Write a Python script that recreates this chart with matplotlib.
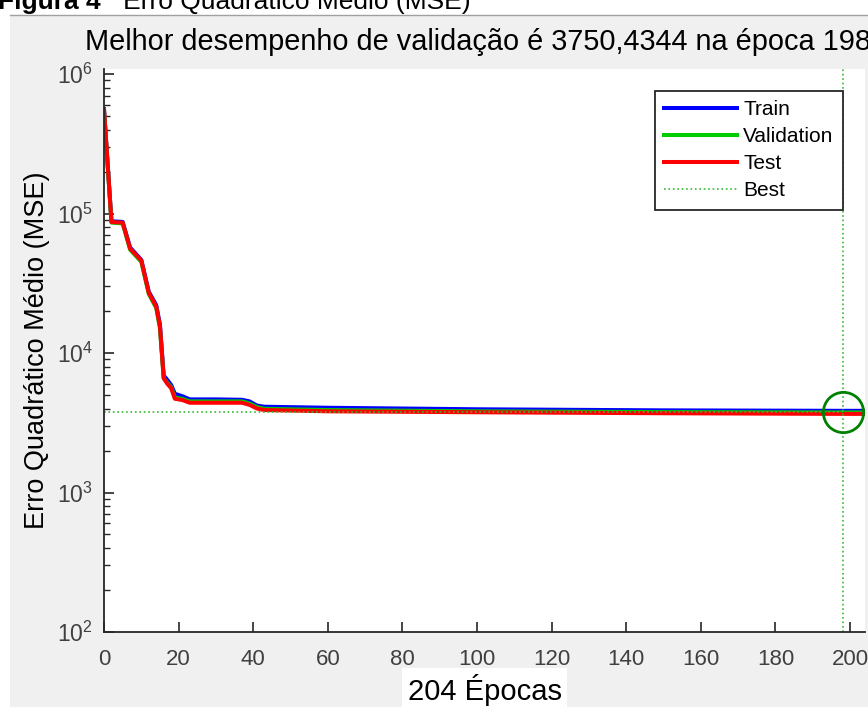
import matplotlib
matplotlib.use("Agg")
import matplotlib.pyplot as plt
from matplotlib.lines import Line2D
from matplotlib.patches import Rectangle

# ---- data ----
epochs = [0, 2, 5, 7, 10, 12, 14, 15, 16, 17, 18, 19, 21, 23, 30, 37, 39, 41, 43, 60, 100, 150, 198, 204]
train = [5.6e5, 8.8e4, 8.7e4, 5.7e4, 4.65e4, 2.75e4, 2.2e4, 1.6e4, 6.9e3, 6.4e3, 5.9e3, 5.1e3,
         4.9e3, 4.65e3, 4.65e3, 4.62e3, 4.5e3, 4.2e3, 4.12e3, 4.05e3, 3.95e3, 3.88e3, 3.85e3, 3.85e3]
validation = [5.5e5, 8.6e4, 8.5e4, 5.5e4, 4.5e4, 2.65e4, 2.1e4, 1.5e4, 6.6e3, 6.1e3, 5.7e3, 4.8e3,
              4.7e3, 4.5e3, 4.5e3, 4.5e3, 4.35e3, 4.1e3, 3.98e3, 3.9e3, 3.82e3, 3.77e3, 3750.4344, 3752]
test = [5.6e5, 8.7e4, 8.6e4, 5.6e4, 4.6e4, 2.7e4, 2.15e4, 1.55e4, 6.6e3, 6.0e3, 5.6e3, 4.7e3,
        4.6e3, 4.4e3, 4.4e3, 4.4e3, 4.25e3, 4.0e3, 3.9e3, 3.82e3, 3.76e3, 3.7e3, 3.66e3, 3.66e3]
best_epoch = 198
best_perf = 3750.4344
n_epochs = 204

xticks = [0, 20, 40, 60, 80, 100, 120, 140, 160, 180, 200]
yticks = [1e2, 1e3, 1e4, 1e5, 1e6]
ytick_labels = ['$10^{2}$', '$10^{3}$', '$10^{4}$', '$10^{5}$', '$10^{6}$']

plt.rcParams['font.family'] = ['Liberation Sans', 'DejaVu Sans']
plt.rcParams['mathtext.fontset'] = 'custom'
plt.rcParams['mathtext.rm'] = 'Liberation Sans'
plt.rcParams['mathtext.default'] = 'regular'

W, H = 868, 707
fig = plt.figure(figsize=(W / 100, H / 100), dpi=100, facecolor='white')

# grey figure panel + separator line
fig.patches.append(Rectangle((10 / W, 0), 1, (H - 15) / H, transform=fig.transFigure,
                             facecolor='#f0f0f0', edgecolor='none', zorder=-5))
fig.lines.append(Line2D([10 / W, 1], [1 - 14.5 / H, 1 - 14.5 / H], transform=fig.transFigure,
                        color='#a0a0a0', lw=1))

# caption cut off at the top
t1 = fig.text(-2 / W, 1 - 9 / H, 'Figura 4', fontsize=19, fontweight='bold', va='baseline')
fig.canvas.draw()
bb = t1.get_window_extent()
fig.text(bb.x1 / W, 1 - 9 / H, '   Erro Quadrático Médio (MSE)', fontsize=19, va='baseline')

ax = fig.add_axes([104 / W, (H - 632) / H, 761 / W, 563 / H])
ax.set_facecolor('white')

ax.plot(epochs, train, color=(0, 0, 1), lw=2.9, label='Train', solid_joinstyle='round')
ax.plot(epochs, validation, color=(0, 0.8, 0), lw=2.9, label='Validation', solid_joinstyle='round')
ax.plot(epochs, test, color=(1, 0, 0), lw=2.9, label='Test', solid_joinstyle='round')
ax.plot([0, best_epoch], [best_perf, best_perf], ':', color='#33bb33', lw=1.2)
ax.axvline(best_epoch, ls=':', color='#33bb33', lw=1.2, label='Best')
ax.plot([best_epoch], [best_perf], 'o', ms=29, mfc='none', mec=(0, 0.5, 0), mew=2)

ax.set_yscale('log')
ax.set_xlim(0, n_epochs)
ax.set_ylim(1e2, 10 ** (2 + 563 / 139.5))
ax.set_xticks(xticks)
ax.set_xticklabels([str(v) for v in xticks], fontsize=16, color='#404040')
ax.set_yticks(yticks)
ax.set_yticklabels(ytick_labels, fontsize=16.5, color='#404040')

for s in ['top', 'right']:
    ax.spines[s].set_visible(False)
for s in ['left', 'bottom']:
    ax.spines[s].set_color('#262626')
    ax.spines[s].set_linewidth(1.3)
ax.tick_params(which='major', direction='in', length=7, width=1.2, color='#262626')
ax.tick_params(axis='x', pad=12)
ax.tick_params(axis='y', pad=8)
ax.tick_params(which='minor', direction='in', length=4, width=1.0, color='#262626')

ax.set_title('Melhor desempenho de validação é 3750,4344 na época 198', fontsize=20.8, pad=14, x=0.491)
ax.set_ylabel('Erro Quadrático Médio (MSE)', fontsize=19.5)
ax.yaxis.set_label_coords(-54 / 761, 0.5)
ax.set_xlabel('204 Épocas', fontsize=21, va='center',
              bbox=dict(facecolor='white', edgecolor='none', pad=4))
ax.xaxis.set_label_coords(0.5, -58 / 563)

leg = ax.legend(loc='upper right', bbox_to_anchor=(0.9711, 0.9609), borderaxespad=0,
                fontsize=15, fancybox=False, framealpha=1, edgecolor='#262626',
                handlelength=3.5, handletextpad=0.3, borderpad=0.45, labelspacing=0.38)
leg.get_frame().set_linewidth(1.3)

fig.savefig('out.png', dpi=100, facecolor=fig.get_facecolor())
